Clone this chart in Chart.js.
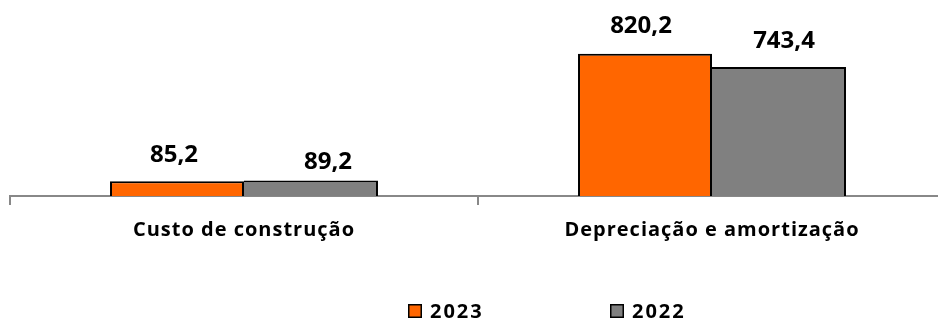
<!DOCTYPE html>
<html lang="pt">
<head>
<meta charset="UTF-8" />
<script src="https://cdn.jsdelivr.net/npm/chart.js"></script>
<title>Custos</title>
<style>
  html, body { margin: 0; padding: 0; background: #fff; overflow: hidden; }
  .grafico { position: absolute; left: 0; top: 0; width: 960px; height: 320px; }
</style>
</head>
<body>
<div class="grafico"><canvas id="myChart"></canvas></div>
<script>
var categorias = ["Custo de construção", "Depreciação e amortização"];
var anos = ["2023", "2022"];
var valores2023 = [85.2, 820.2];
var valores2022 = [89.2, 743.4];

var laranja = "#FF6600";
var cinza = "#808080";
var fonte = "'Open Sans', sans-serif";

function formatar(v) {
    return v.toFixed(1).replace(".", ",");
}

// espaçamento entre letras dos textos do eixo
var espacamento = {
    id: "espacamento",
    beforeDraw: function (chart) {
        chart.ctx.letterSpacing = "1px";
    }
};

// rótulos de valor acima das barras (deslocamentos ajustados à mão, como no Excel)
var rotulos = {
    id: "rotulos",
    afterDatasetsDraw: function (chart, args, opts) {
        var ctx = chart.ctx;
        ctx.save();
        ctx.letterSpacing = "0px";
        ctx.font = "bold 24px " + fonte;
        ctx.fillStyle = "#000";
        ctx.textAlign = "center";
        ctx.textBaseline = "alphabetic";
        chart.data.datasets.forEach(function (ds, i) {
            chart.getDatasetMeta(i).data.forEach(function (bar, j) {
                var dx = opts.dx[i][j];
                var dy = opts.dy[i][j];
                ctx.fillText(formatar(ds.data[j]), bar.x + dx, bar.y - dy);
            });
        });
        ctx.restore();
    }
};

// legenda desenhada à parte para ficar no mesmo lugar
var legenda = {
    id: "legenda",
    afterDraw: function (chart, args, opts) {
        var ctx = chart.ctx;
        ctx.save();
        ctx.letterSpacing = "2px";
        ctx.font = "bold 20px " + fonte;
        ctx.textBaseline = "alphabetic";
        ctx.textAlign = "left";
        chart.data.datasets.forEach(function (ds, i) {
            var x = opts.x[i];
            var y = opts.y;
            ctx.fillStyle = ds.backgroundColor;
            ctx.fillRect(x, y, 14, 14);
            ctx.strokeStyle = "#000";
            ctx.lineWidth = 1.5;
            ctx.strokeRect(x + 0.75, y + 0.75, 12.5, 12.5);
            ctx.fillStyle = "#000";
            ctx.fillText(ds.label, x + 22, y + 14);
        });
        ctx.restore();
    }
};

var chart = new Chart(document.getElementById("myChart"), {
    type: "bar",
    data: {
        labels: categorias,
        datasets: [
            {
                label: anos[0],
                data: valores2023,
                backgroundColor: laranja,
                borderColor: "#000",
                borderWidth: { top: 2, left: 2, right: 2, bottom: 0 },
                borderSkipped: false,
                categoryPercentage: 0.5726,
                barPercentage: 1
            },
            {
                label: anos[1],
                data: valores2022,
                backgroundColor: cinza,
                borderColor: "#000",
                borderWidth: { top: 2, left: 0, right: 2, bottom: 0 },
                borderSkipped: false,
                categoryPercentage: 0.5726,
                barPercentage: 1
            }
        ]
    },
    options: {
        responsive: true,
        maintainAspectRatio: false,
        animation: false,
        layout: { padding: { left: 10, right: 14, top: 0, bottom: 0 } },
        plugins: {
            legend: { display: false },
            tooltip: { enabled: false },
            rotulos: { dx: [[-3, -4], [17, 5]], dy: [[19, 21], [12, 19]] },
            legenda: { x: [408, 610], y: 304 }
        },
        scales: {
            x: {
                offset: true,
                grid: {
                    offset: true,
                    drawOnChartArea: false,
                    drawTicks: true,
                    tickLength: 9,
                    color: "#888",
                    lineWidth: 2
                },
                border: { display: true, color: "#888", width: 2 },
                ticks: {
                    color: "#000",
                    padding: 13,
                    font: { family: fonte, size: 20, weight: "bold" }
                },
                afterFit: function (scale) {
                    scale.height = 124;
                }
            },
            y: {
                display: false,
                min: 0,
                max: 1130
            }
        }
    },
    plugins: [espacamento, rotulos, legenda]
});
</script>
</body>
</html>
